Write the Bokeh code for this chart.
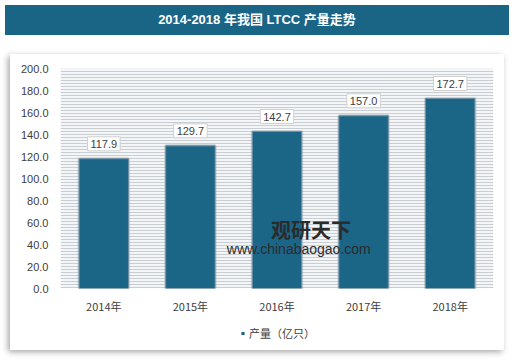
from bokeh.plotting import figure
from bokeh.models import (Range1d, FixedTicker, NumeralTickFormatter, ColumnDataSource,
                          BoxAnnotation, Legend, LegendItem, FactorRange, Div, Spacer, Label)
from bokeh.layouts import column, row
from bokeh.core.properties import value
from bokeh.embed import file_html
from bokeh.resources import INLINE

years = ["2014年", "2015年", "2016年", "2017年", "2018年"]
output = [117.9, 129.7, 142.7, 157.0, 172.7]
y_ticks = [0, 20, 40, 60, 80, 100, 120, 140, 160, 180, 200]
title_text = "2014-2018 年我国 LTCC 产量走势"
series_name = "产量（亿只）"
watermark_cn = "观研天下"
watermark_url = "www.chinabaogao.com"

BAR = "#1b6587"
FONT = "Liberation Sans"
CJK = "Noto Sans CJK SC"

src = ColumnDataSource(dict(x=years, top=output, label=[f"{v:.1f}" for v in output]))

title = Div(text=title_text, width=504, height=30,
            styles={"background-color": "#1a6586", "color": "white",
                    "font-family": "'Liberation Sans', 'Noto Sans CJK SC'",
                    "font-weight": "bold", "font-size": "13px", "text-align": "center",
                    "line-height": "30px", "width": "504px"})

p = figure(width=494, height=262, output_backend="svg", toolbar_location=None,
           x_range=FactorRange(*years, range_padding=0), y_range=Range1d(0, 200),
           min_border_left=50, min_border_right=11, min_border_top=14, min_border_bottom=25)
p.outline_line_color = None
p.border_fill_color = "white"
p.background_fill_color = "white"
p.xgrid.visible = False
p.ygrid.visible = False

# striped plot background
p.add_layout(BoxAnnotation(fill_color="#f3f5f7", fill_alpha=1, line_color=None,
                           hatch_pattern="horizontal_line", hatch_color="#c9ced4",
                           hatch_scale=3, hatch_weight=1, level="underlay"))

# bar shadows and bars
p.vbar(x="x", top="top", width=0.57, source=src, fill_color="#8a9aa6",
       line_color="#8a9aa6", line_width=3, fill_alpha=0.5, line_alpha=0.4)
bars = p.vbar(x="x", top="top", width=0.57, source=src, fill_color=BAR,
              line_color="#6d8fa3", line_width=1)

p.text(x="x", y="top", text="label", source=src, text_align="center",
       text_baseline="bottom", y_offset=-8, text_font=value(FONT), text_font_size="11px",
       text_color="#404040", background_fill_color="white",
       border_line_color="#d0d0d0", padding=3)

# watermark
p.add_layout(Label(x=2.43, y=53.5, text=watermark_cn, text_font=CJK, text_font_size="20px",
                   text_font_style="bold", text_color="#2b2b2b", text_baseline="middle"))
p.add_layout(Label(x=1.92, y=36.2, text=watermark_url, text_font=FONT, text_font_size="14px",
                   text_color="#2b2b2b", text_baseline="middle"))

p.yaxis.ticker = FixedTicker(ticks=y_ticks)
p.yaxis.formatter = NumeralTickFormatter(format="0.0")
for ax in (p.xaxis, p.yaxis):
    ax.axis_line_color = None
    ax.major_tick_line_color = None
    ax.minor_tick_line_color = None
    ax.major_tick_out = 0
    ax.major_label_text_font_size = "11px"
    ax.major_label_text_color = "#404040"
    ax.major_label_text_font = FONT
p.yaxis.major_label_standoff = 12
p.xaxis.major_label_standoff = 9
p.xaxis.major_label_text_font = CJK

# legend strip (separate small figure holding the legend)
lg = figure(width=494, height=34, output_backend="svg", toolbar_location=None,
            x_range=Range1d(0, 1), y_range=Range1d(0, 1), min_border=0)
lg.outline_line_color = None
lg.border_fill_color = "white"
lg.background_fill_color = "white"
lg.axis.visible = False
lg.grid.visible = False
lsrc = ColumnDataSource(dict(x=[-5.0], top=[output[0]]))  # proxy kept outside the view
lbar = lg.scatter(x="x", y="top", source=lsrc, marker="square", size=8,
                  fill_color=BAR, line_color=None)
legend = Legend(items=[LegendItem(label=series_name, renderers=[lbar])],
                location="center", orientation="horizontal",
                glyph_width=8, glyph_height=8, label_text_font=CJK,
                label_text_font_size="11px", label_text_color="#404040",
                border_line_alpha=0, background_fill_color="white", background_fill_alpha=1,
                padding=4, margin=0, label_standoff=3)
lg.add_layout(legend, "center")

panel = column(p, lg, spacing=0,
               styles={"background-color": "white",
                       "box-shadow": "-2px 2px 6px rgba(0,0,0,0.35)"})
layout = column(title, Spacer(height=14), row(Spacer(width=10), panel, spacing=0), spacing=0)
open("out.html", "w").write(file_html(layout, INLINE))
